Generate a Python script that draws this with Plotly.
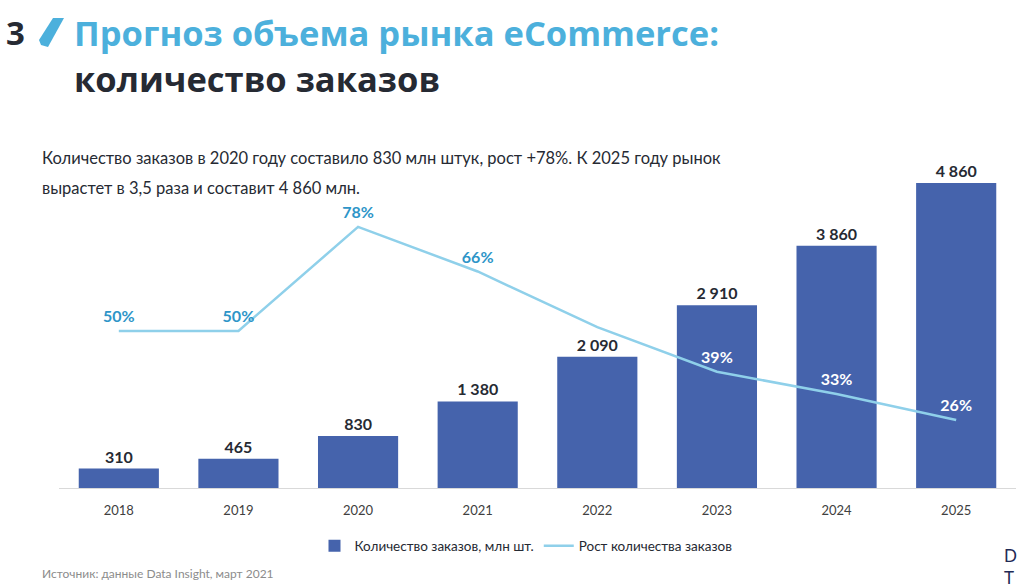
import plotly.graph_objects as go

# data
years = ['2018', '2019', '2020', '2021', '2022', '2023', '2024', '2025']
orders = [310, 465, 830, 1380, 2090, 2910, 3860, 4860]
growth = [50, 50, 78, 66, 51, 39, 33, 26]
growth_labels = ['50%', '50%', '78%', '66%', '', '39%', '33%', '26%']
growth_label_colors = ['#2E95C8', '#2E95C8', '#2E95C8', '#2E95C8', '#2E95C8',
                       'white', 'white', 'white']

W, H = 1024, 587
ML, MR, MT, MB = 59, 8, 140, 99

BAR_COLOR = '#4563AC'
LINE_COLOR = '#8FD0EA'
DARK = '#262A33'
BODY_FONT = 'Lato'
TITLE_FONT = 'Open Sans'


def px(x):
    """pixel x -> paper x"""
    return (x - ML) / (W - ML - MR)


def py(y):
    """pixel y -> paper y"""
    return (H - MB - y) / (H - MT - MB)


bar_text = [f'{v:,}'.replace(',', ' ') for v in orders]

fig = go.Figure()
fig.add_trace(go.Bar(
    x=years, y=orders,
    name='Количество заказов, млн шт.',
    marker=dict(color=BAR_COLOR, line=dict(width=0)),
    text=bar_text, textposition='outside',
    textfont=dict(family=BODY_FONT, size=16, color=DARK, weight='bold'),
    cliponaxis=False,
))
fig.add_trace(go.Scatter(
    x=years, y=growth, yaxis='y2',
    name='Рост количества заказов',
    mode='lines+markers+text',
    line=dict(color=LINE_COLOR, width=2.5),
    # invisible markers, only there to push the labels a bit off the line
    marker=dict(size=6, color='rgba(0,0,0,0)'),
    text=growth_labels, textposition='top center',
    textfont=dict(family=BODY_FONT, size=16, color=growth_label_colors, weight='bold'),
    cliponaxis=False,
))

annotations = [
    dict(x=px(4), y=py(33), text='<b>3</b>', font=dict(family=TITLE_FONT, size=33, color=DARK),
         xanchor='left', yanchor='middle'),
    dict(x=px(72), y=py(33), text='<b>Прогноз объема рынка eCommerce:</b>',
         font=dict(family=TITLE_FONT, size=34.5, color='#4CB0DC'), xanchor='left', yanchor='middle'),
    dict(x=px(72), y=py(79), text='<b>количество заказов</b>',
         font=dict(family=TITLE_FONT, size=34.5, color=DARK), xanchor='left', yanchor='middle'),
    dict(x=px(40), y=py(158),
         text='Количество заказов в 2020 году составило 830 млн штук, рост +78%. К 2025 году рынок',
         font=dict(family=BODY_FONT, size=16.5, color=DARK), xanchor='left', yanchor='middle'),
    dict(x=px(40), y=py(188), text='вырастет в 3,5 раза и составит 4 860 млн.',
         font=dict(family=BODY_FONT, size=16.5, color=DARK), xanchor='left', yanchor='middle'),
    dict(x=px(40), y=py(573), text='Источник: данные Data Insight, март 2021',
         font=dict(family=BODY_FONT, size=12, color='#8C8C8C'), xanchor='left', yanchor='middle'),
    dict(x=px(1002), y=py(566), text='D<br>T', align='left',
         font=dict(family=BODY_FONT, size=17, color='#1F2A55'), xanchor='left', yanchor='middle'),
]
for a in annotations:
    a.update(xref='paper', yref='paper', showarrow=False)

shapes = [
    # the slash mark next to the chapter number
    dict(type='path', xref='paper', yref='paper',
         path=f'M {px(53)},{py(18)} L {px(64)},{py(18)} L {px(48)},{py(47)} '
              f'L {px(41)},{py(45)} L {px(39)},{py(40)} Z',
         fillcolor='#4CB0DC', line=dict(width=0)),
]

fig.update_layout(
    width=W, height=H,
    margin=dict(l=ML, r=MR, t=MT, b=MB),
    plot_bgcolor='white', paper_bgcolor='white',
    font=dict(family=BODY_FONT, color='#404040'),
    bargap=0.33,
    showlegend=True,
    legend=dict(orientation='h', x=px(526), y=py(546), xanchor='center', yanchor='middle',
                font=dict(family=BODY_FONT, size=13.5, color=DARK), itemwidth=30,
                traceorder='normal'),
    xaxis=dict(showgrid=False, showline=True, linecolor='#D9D9D9', linewidth=1,
               ticks='', tickfont=dict(size=13, color='#404040'), ticklabelstandoff=10),
    yaxis=dict(range=[0, 5545], visible=False, showgrid=False),
    yaxis2=dict(range=[7.7, 101.4], overlaying='y', visible=False, showgrid=False),
    annotations=annotations,
    shapes=shapes,
)

# page has a default 8px body margin; drop it so the figure sits at the top-left corner
fig.write_html('out.html', config={'displayModeBar': False},
               post_script="document.body.style.margin='0px';")
